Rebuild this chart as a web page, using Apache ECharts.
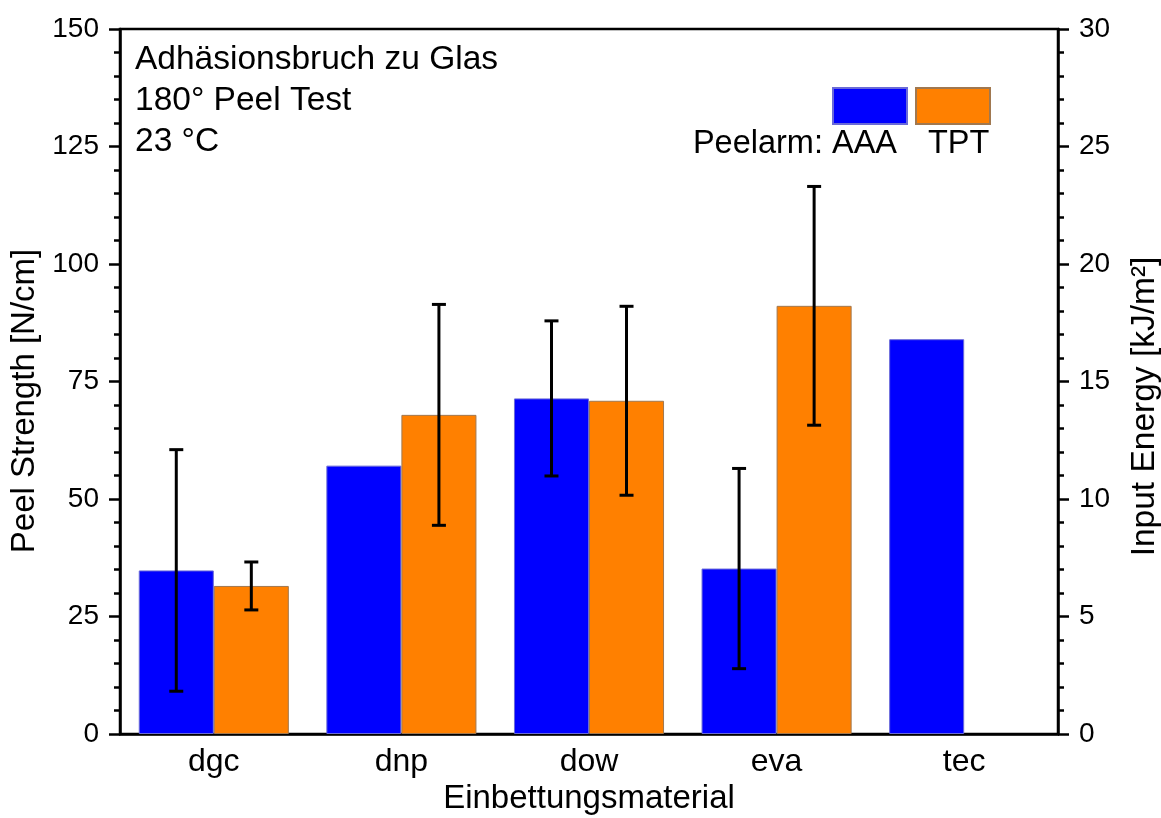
<!DOCTYPE html>
<html>
<head>
<meta charset="utf-8">
<script src="https://cdn.jsdelivr.net/npm/echarts@6/dist/echarts.min.js"></script>
<style>html,body{margin:0;padding:0;background:#fff;}#c{width:1161px;height:818px;}</style>
</head>
<body>
<div id="c"></div>
<script>
const categories = ['dgc', 'dnp', 'dow', 'eva', 'tec'];
const aaaValues = [34.8, 57.1, 71.4, 35.2, 84.0];
const aaaErrors = [25.7, null, 16.5, 21.3, null];
const tptValues = [31.5, 67.9, 70.9, 91.1, null];
const tptErrors = [5.1, 23.5, 20.1, 25.4, null];
const leftTicks = [0, 25, 50, 75, 100, 125, 150];
const rightTicks = [0, 5, 10, 15, 20, 25, 30];
const annotationLines = ['Adhäsionsbruch zu Glas', '180° Peel Test', '23 °C'];

const FONT = 'Liberation Sans, Arial, sans-serif';

function errData(vals, errs) {
  const out = [];
  vals.forEach((v, i) => {
    if (v != null && errs[i] != null) out.push([i, v - errs[i], v + errs[i]]);
  });
  return out;
}

function errRender(sign) {
  return function (params, api) {
    const i = api.value(0);
    const lo = api.value(1), hi = api.value(2);
    const band = api.size([1, 0])[0];
    const bw = band * 0.8 / 2;
    const cx = api.coord([i, 0])[0] + sign * bw / 2;
    const yl = api.coord([i, lo])[1];
    const yh = api.coord([i, hi])[1];
    const cap = 7;
    const st = { stroke: '#000', lineWidth: 3 };
    return {
      type: 'group',
      children: [
        { type: 'line', shape: { x1: cx, y1: yl, x2: cx, y2: yh }, style: st },
        { type: 'line', shape: { x1: cx - cap, y1: yh, x2: cx + cap, y2: yh }, style: st },
        { type: 'line', shape: { x1: cx - cap, y1: yl, x2: cx + cap, y2: yl }, style: st }
      ]
    };
  };
}

const chart = echarts.init(document.getElementById('c'), null, { renderer: 'canvas' });
const axisLine = { show: true, lineStyle: { color: '#000', width: 2.5 } };
const tickStyle = { color: '#000', width: 2.5 };
const option = {
  backgroundColor: '#fff',
  animation: false,
  textStyle: { fontFamily: FONT },
  grid: { left: 120, right: 103, top: 29, bottom: 84, show: true, borderColor: '#000', borderWidth: 2.5,
    containLabel: false, outerBoundsMode: 'none' },
  legend: {
    data: ['AAA', 'TPT'],
    left: 832,
    top: 87,
    padding: 0,
    itemWidth: 74,
    itemHeight: 36,
    itemGap: 7,
    icon: 'rect',
    selectedMode: false,
    formatter: function () { return ''; },
    textStyle: { fontSize: 1 }
  },
  xAxis: {
    type: 'category',
    data: categories,
    axisLine: axisLine,
    axisTick: { show: false },
    axisLabel: { fontSize: 32, color: '#000', margin: 12, fontFamily: FONT },
    name: 'Einbettungsmaterial',
    nameLocation: 'middle',
    nameGap: 48,
    nameTextStyle: { fontSize: 33, color: '#000', fontFamily: FONT },
    splitLine: { show: false }
  },
  yAxis: [
    {
      type: 'value',
      min: 0, max: 150, interval: 25,
      position: 'left',
      axisLine: axisLine,
      axisTick: { show: true, inside: false, length: 11, lineStyle: tickStyle },
      minorTick: { show: true, splitNumber: 5, length: 6, lineStyle: tickStyle },
      axisLabel: { fontSize: 28, color: '#000', margin: 21, fontFamily: FONT,
        formatter: v => leftTicks.includes(v) ? String(v) : '' },
      splitLine: { show: false },
      name: 'Peel Strength [N/cm]',
      nameLocation: 'middle',
      nameRotate: 90,
      nameGap: 76,
      nameTextStyle: { fontSize: 33, color: '#000', fontFamily: FONT, padding: [0, 39, 0, 0] }
    },
    {
      type: 'value',
      min: 0, max: 30, interval: 5,
      position: 'right',
      axisLine: axisLine,
      axisTick: { show: true, inside: false, length: 11, lineStyle: tickStyle },
      minorTick: { show: true, splitNumber: 5, length: 6, lineStyle: tickStyle },
      axisLabel: { fontSize: 28, color: '#000', margin: 21, fontFamily: FONT,
        formatter: v => rightTicks.includes(v) ? String(v) : '' },
      splitLine: { show: false },
      name: 'Input Energy [kJ/m²]',
      nameLocation: 'middle',
      nameRotate: 90,
      nameGap: 70,
      nameTextStyle: { fontSize: 33.5, color: '#000', fontFamily: FONT, padding: [0, 50, 0, 0] }
    }
  ],
  series: [
    {
      name: 'AAA', type: 'bar', data: aaaValues, barGap: '0%', barCategoryGap: '20%',
      itemStyle: { color: '#0000ff', borderColor: '#6a6ad8', borderWidth: 1 }, z: 2
    },
    {
      name: 'TPT', type: 'bar', data: tptValues, barGap: '0%', barCategoryGap: '20%',
      itemStyle: { color: '#ff8000', borderColor: '#a07850', borderWidth: 1 }, z: 2
    },
    {
      type: 'custom', name: 'errAAA', data: errData(aaaValues, aaaErrors),
      renderItem: errRender(-1), encode: { x: 0, y: [1, 2] }, z: 5, silent: true
    },
    {
      type: 'custom', name: 'errTPT', data: errData(tptValues, tptErrors),
      renderItem: errRender(1), encode: { x: 0, y: [1, 2] }, z: 5, silent: true
    }
  ],
  graphic: [
    ...annotationLines.map((t, i) => ({
      type: 'text', left: 135, top: 43 + i * 41, z: 10,
      style: { text: t, font: '33.5px ' + FONT, fill: '#000' }
    })),
    {
      type: 'text', right: 1161 - 897, top: 128, z: 10,
      style: { text: 'Peelarm: AAA', font: '32.5px ' + FONT, fill: '#000' }
    },
    {
      type: 'text', left: 928, top: 128, z: 10,
      style: { text: 'TPT', font: '32.5px ' + FONT, fill: '#000' }
    }
  ]
};
chart.setOption(option);
</script>
</body>
</html>
